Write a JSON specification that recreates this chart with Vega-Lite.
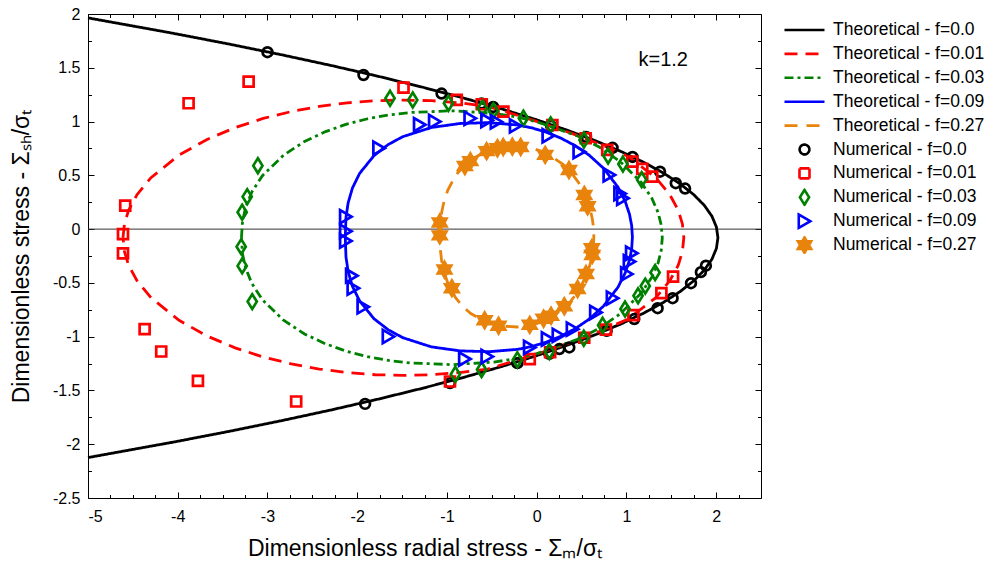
{
  "$schema": "https://vega.github.io/schema/vega-lite/v6.json",
  "width": 673,
  "height": 484,
  "autosize": {"type": "none"},
  "padding": {"left": 88, "top": 14, "right": 226, "bottom": 74},
  "background": "white",
  "config": {
    "view": {"stroke": "#000", "strokeWidth": 1},
    "font": "Liberation Sans",
    "axis": {"grid": false, "domain": false, "tickColor": "#000", "tickWidth": 1, "labelColor": "#000", "titleColor": "#000", "labelFont": "Liberation Sans", "titleFont": "Liberation Sans", "labelFontSize": 16, "titleFontSize": 23, "titleFontWeight": "normal"}
  },
  "datasets": {
    "black": [
      {"s":"Theoretical - f=0.0","x":-5,"y":1.964},{"s":"Theoretical - f=0.0","x":-4.047,"y":1.82},{"s":"Theoretical - f=0.0","x":-3.425,"y":1.72},{"s":"Theoretical - f=0.0","x":-2.837,"y":1.62},{"s":"Theoretical - f=0.0","x":-2.283,"y":1.52},{"s":"Theoretical - f=0.0","x":-1.762,"y":1.42},{"s":"Theoretical - f=0.0","x":-1.274,"y":1.32},{"s":"Theoretical - f=0.0","x":-0.82,"y":1.22},{"s":"Theoretical - f=0.0","x":-0.4,"y":1.12},{"s":"Theoretical - f=0.0","x":-0.014,"y":1.02},{"s":"Theoretical - f=0.0","x":0.339,"y":0.92},{"s":"Theoretical - f=0.0","x":0.659,"y":0.82},{"s":"Theoretical - f=0.0","x":0.944,"y":0.72},{"s":"Theoretical - f=0.0","x":1.196,"y":0.62},{"s":"Theoretical - f=0.0","x":1.415,"y":0.52},{"s":"Theoretical - f=0.0","x":1.6,"y":0.42},{"s":"Theoretical - f=0.0","x":1.751,"y":0.32},{"s":"Theoretical - f=0.0","x":1.869,"y":0.22},{"s":"Theoretical - f=0.0","x":1.953,"y":0.12},{"s":"Theoretical - f=0.0","x":2.003,"y":0.02},{"s":"Theoretical - f=0.0","x":2.02,"y":-0.08},{"s":"Theoretical - f=0.0","x":2.003,"y":-0.18},{"s":"Theoretical - f=0.0","x":1.953,"y":-0.28},{"s":"Theoretical - f=0.0","x":1.869,"y":-0.38},{"s":"Theoretical - f=0.0","x":1.751,"y":-0.48},{"s":"Theoretical - f=0.0","x":1.6,"y":-0.58},{"s":"Theoretical - f=0.0","x":1.415,"y":-0.68},{"s":"Theoretical - f=0.0","x":1.196,"y":-0.78},{"s":"Theoretical - f=0.0","x":0.944,"y":-0.88},{"s":"Theoretical - f=0.0","x":0.659,"y":-0.98},{"s":"Theoretical - f=0.0","x":0.339,"y":-1.08},{"s":"Theoretical - f=0.0","x":-0.014,"y":-1.18},{"s":"Theoretical - f=0.0","x":-0.4,"y":-1.28},{"s":"Theoretical - f=0.0","x":-0.82,"y":-1.38},{"s":"Theoretical - f=0.0","x":-1.274,"y":-1.48},{"s":"Theoretical - f=0.0","x":-1.762,"y":-1.58},{"s":"Theoretical - f=0.0","x":-2.283,"y":-1.68},{"s":"Theoretical - f=0.0","x":-2.837,"y":-1.78},{"s":"Theoretical - f=0.0","x":-3.425,"y":-1.88},{"s":"Theoretical - f=0.0","x":-4.047,"y":-1.98},{"s":"Theoretical - f=0.0","x":-5,"y":-2.124}
    ],
    "loops": [
      {"s":"Theoretical - f=0.01","x":-4.61,"y":-0.08},{"s":"Theoretical - f=0.01","x":-4.594,"y":0.048},{"s":"Theoretical - f=0.01","x":-4.548,"y":0.175},{"s":"Theoretical - f=0.01","x":-4.454,"y":0.32},{"s":"Theoretical - f=0.01","x":-4.298,"y":0.478},{"s":"Theoretical - f=0.01","x":-3.985,"y":0.688},{"s":"Theoretical - f=0.01","x":-3.673,"y":0.834},{"s":"Theoretical - f=0.01","x":-3.36,"y":0.944},{"s":"Theoretical - f=0.01","x":-3.048,"y":1.029},{"s":"Theoretical - f=0.01","x":-2.735,"y":1.093},{"s":"Theoretical - f=0.01","x":-2.423,"y":1.141},{"s":"Theoretical - f=0.01","x":-2.11,"y":1.174},{"s":"Theoretical - f=0.01","x":-1.798,"y":1.194},{"s":"Theoretical - f=0.01","x":-1.485,"y":1.2},{"s":"Theoretical - f=0.01","x":-1.173,"y":1.194},{"s":"Theoretical - f=0.01","x":-0.86,"y":1.174},{"s":"Theoretical - f=0.01","x":-0.548,"y":1.141},{"s":"Theoretical - f=0.01","x":-0.235,"y":1.063},{"s":"Theoretical - f=0.01","x":0.078,"y":0.98},{"s":"Theoretical - f=0.01","x":0.39,"y":0.89},{"s":"Theoretical - f=0.01","x":0.703,"y":0.79},{"s":"Theoretical - f=0.01","x":1.015,"y":0.678},{"s":"Theoretical - f=0.01","x":1.328,"y":0.478},{"s":"Theoretical - f=0.01","x":1.484,"y":0.32},{"s":"Theoretical - f=0.01","x":1.578,"y":0.175},{"s":"Theoretical - f=0.01","x":1.624,"y":0.048},{"s":"Theoretical - f=0.01","x":1.64,"y":-0.08},{"s":"Theoretical - f=0.01","x":1.624,"y":-0.208},{"s":"Theoretical - f=0.01","x":1.578,"y":-0.335},{"s":"Theoretical - f=0.01","x":1.484,"y":-0.48},{"s":"Theoretical - f=0.01","x":1.328,"y":-0.638},{"s":"Theoretical - f=0.01","x":1.015,"y":-0.838},{"s":"Theoretical - f=0.01","x":0.703,"y":-0.95},{"s":"Theoretical - f=0.01","x":0.39,"y":-1.05},{"s":"Theoretical - f=0.01","x":0.078,"y":-1.14},{"s":"Theoretical - f=0.01","x":-0.235,"y":-1.223},{"s":"Theoretical - f=0.01","x":-0.548,"y":-1.301},{"s":"Theoretical - f=0.01","x":-0.86,"y":-1.334},{"s":"Theoretical - f=0.01","x":-1.173,"y":-1.354},{"s":"Theoretical - f=0.01","x":-1.485,"y":-1.36},{"s":"Theoretical - f=0.01","x":-1.798,"y":-1.354},{"s":"Theoretical - f=0.01","x":-2.11,"y":-1.334},{"s":"Theoretical - f=0.01","x":-2.423,"y":-1.301},{"s":"Theoretical - f=0.01","x":-2.735,"y":-1.253},{"s":"Theoretical - f=0.01","x":-3.048,"y":-1.189},{"s":"Theoretical - f=0.01","x":-3.36,"y":-1.104},{"s":"Theoretical - f=0.01","x":-3.673,"y":-0.994},{"s":"Theoretical - f=0.01","x":-3.985,"y":-0.848},{"s":"Theoretical - f=0.01","x":-4.298,"y":-0.638},{"s":"Theoretical - f=0.01","x":-4.454,"y":-0.48},{"s":"Theoretical - f=0.01","x":-4.548,"y":-0.335},{"s":"Theoretical - f=0.01","x":-4.594,"y":-0.208},{"s":"Theoretical - f=0.01","x":-4.61,"y":-0.08},
      {"s":"Theoretical - f=0.03","x":-3.29,"y":-0.08},{"s":"Theoretical - f=0.03","x":-3.278,"y":0.072},{"s":"Theoretical - f=0.03","x":-3.243,"y":0.204},{"s":"Theoretical - f=0.03","x":-3.173,"y":0.347},{"s":"Theoretical - f=0.03","x":-3.056,"y":0.497},{"s":"Theoretical - f=0.03","x":-2.821,"y":0.687},{"s":"Theoretical - f=0.03","x":-2.587,"y":0.815},{"s":"Theoretical - f=0.03","x":-2.352,"y":0.907},{"s":"Theoretical - f=0.03","x":-2.118,"y":0.976},{"s":"Theoretical - f=0.03","x":-1.883,"y":1.026},{"s":"Theoretical - f=0.03","x":-1.649,"y":1.061},{"s":"Theoretical - f=0.03","x":-1.414,"y":1.084},{"s":"Theoretical - f=0.03","x":-0.945,"y":1.1},{"s":"Theoretical - f=0.03","x":-0.476,"y":1.076},{"s":"Theoretical - f=0.03","x":-0.242,"y":1.046},{"s":"Theoretical - f=0.03","x":-0.007,"y":1.0},{"s":"Theoretical - f=0.03","x":0.228,"y":0.933},{"s":"Theoretical - f=0.03","x":0.462,"y":0.863},{"s":"Theoretical - f=0.03","x":0.697,"y":0.763},{"s":"Theoretical - f=0.03","x":0.931,"y":0.628},{"s":"Theoretical - f=0.03","x":1.166,"y":0.434},{"s":"Theoretical - f=0.03","x":1.283,"y":0.288},{"s":"Theoretical - f=0.03","x":1.353,"y":0.155},{"s":"Theoretical - f=0.03","x":1.388,"y":0.038},{"s":"Theoretical - f=0.03","x":1.4,"y":-0.08},{"s":"Theoretical - f=0.03","x":1.388,"y":-0.198},{"s":"Theoretical - f=0.03","x":1.353,"y":-0.315},{"s":"Theoretical - f=0.03","x":1.283,"y":-0.448},{"s":"Theoretical - f=0.03","x":1.166,"y":-0.594},{"s":"Theoretical - f=0.03","x":0.931,"y":-0.788},{"s":"Theoretical - f=0.03","x":0.697,"y":-0.923},{"s":"Theoretical - f=0.03","x":0.462,"y":-1.023},{"s":"Theoretical - f=0.03","x":0.228,"y":-1.093},{"s":"Theoretical - f=0.03","x":-0.007,"y":-1.16},{"s":"Theoretical - f=0.03","x":-0.242,"y":-1.206},{"s":"Theoretical - f=0.03","x":-0.476,"y":-1.236},{"s":"Theoretical - f=0.03","x":-0.945,"y":-1.26},{"s":"Theoretical - f=0.03","x":-1.414,"y":-1.244},{"s":"Theoretical - f=0.03","x":-1.649,"y":-1.221},{"s":"Theoretical - f=0.03","x":-1.883,"y":-1.186},{"s":"Theoretical - f=0.03","x":-2.118,"y":-1.136},{"s":"Theoretical - f=0.03","x":-2.352,"y":-1.067},{"s":"Theoretical - f=0.03","x":-2.587,"y":-0.975},{"s":"Theoretical - f=0.03","x":-2.821,"y":-0.847},{"s":"Theoretical - f=0.03","x":-3.056,"y":-0.657},{"s":"Theoretical - f=0.03","x":-3.173,"y":-0.507},{"s":"Theoretical - f=0.03","x":-3.243,"y":-0.364},{"s":"Theoretical - f=0.03","x":-3.278,"y":-0.232},{"s":"Theoretical - f=0.03","x":-3.29,"y":-0.08},
      {"s":"Theoretical - f=0.09","x":-2.133,"y":-0.075},{"s":"Theoretical - f=0.09","x":-2.125,"y":0.109},{"s":"Theoretical - f=0.09","x":-2.101,"y":0.244},{"s":"Theoretical - f=0.09","x":-2.053,"y":0.382},{"s":"Theoretical - f=0.09","x":-1.973,"y":0.518},{"s":"Theoretical - f=0.09","x":-1.813,"y":0.683},{"s":"Theoretical - f=0.09","x":-1.653,"y":0.787},{"s":"Theoretical - f=0.09","x":-1.493,"y":0.859},{"s":"Theoretical - f=0.09","x":-1.173,"y":0.945},{"s":"Theoretical - f=0.09","x":-0.853,"y":0.982},{"s":"Theoretical - f=0.09","x":-0.533,"y":0.99},{"s":"Theoretical - f=0.09","x":-0.213,"y":0.968},{"s":"Theoretical - f=0.09","x":-0.053,"y":0.941},{"s":"Theoretical - f=0.09","x":0.107,"y":0.901},{"s":"Theoretical - f=0.09","x":0.267,"y":0.847},{"s":"Theoretical - f=0.09","x":0.427,"y":0.777},{"s":"Theoretical - f=0.09","x":0.587,"y":0.686},{"s":"Theoretical - f=0.09","x":0.747,"y":0.564},{"s":"Theoretical - f=0.09","x":0.907,"y":0.389},{"s":"Theoretical - f=0.09","x":0.987,"y":0.257},{"s":"Theoretical - f=0.09","x":1.035,"y":0.137},{"s":"Theoretical - f=0.09","x":1.059,"y":0.031},{"s":"Theoretical - f=0.09","x":1.067,"y":-0.075},{"s":"Theoretical - f=0.09","x":1.059,"y":-0.181},{"s":"Theoretical - f=0.09","x":1.035,"y":-0.287},{"s":"Theoretical - f=0.09","x":0.987,"y":-0.407},{"s":"Theoretical - f=0.09","x":0.907,"y":-0.539},{"s":"Theoretical - f=0.09","x":0.747,"y":-0.714},{"s":"Theoretical - f=0.09","x":0.587,"y":-0.836},{"s":"Theoretical - f=0.09","x":0.427,"y":-0.927},{"s":"Theoretical - f=0.09","x":0.267,"y":-0.997},{"s":"Theoretical - f=0.09","x":0.107,"y":-1.051},{"s":"Theoretical - f=0.09","x":-0.053,"y":-1.091},{"s":"Theoretical - f=0.09","x":-0.213,"y":-1.118},{"s":"Theoretical - f=0.09","x":-0.533,"y":-1.14},{"s":"Theoretical - f=0.09","x":-0.853,"y":-1.132},{"s":"Theoretical - f=0.09","x":-1.173,"y":-1.095},{"s":"Theoretical - f=0.09","x":-1.493,"y":-1.009},{"s":"Theoretical - f=0.09","x":-1.653,"y":-0.937},{"s":"Theoretical - f=0.09","x":-1.813,"y":-0.833},{"s":"Theoretical - f=0.09","x":-1.973,"y":-0.668},{"s":"Theoretical - f=0.09","x":-2.053,"y":-0.532},{"s":"Theoretical - f=0.09","x":-2.101,"y":-0.394},{"s":"Theoretical - f=0.09","x":-2.125,"y":-0.259},{"s":"Theoretical - f=0.09","x":-2.133,"y":-0.075},
      {"s":"Theoretical - f=0.27","x":-1.077,"y":-0.07},{"s":"Theoretical - f=0.27","x":-1.073,"y":0.05},{"s":"Theoretical - f=0.27","x":-1.06,"y":0.149},{"s":"Theoretical - f=0.27","x":-1.034,"y":0.253},{"s":"Theoretical - f=0.27","x":-0.991,"y":0.361},{"s":"Theoretical - f=0.27","x":-0.906,"y":0.495},{"s":"Theoretical - f=0.27","x":-0.82,"y":0.583},{"s":"Theoretical - f=0.27","x":-0.734,"y":0.645},{"s":"Theoretical - f=0.27","x":-0.563,"y":0.724},{"s":"Theoretical - f=0.27","x":-0.391,"y":0.761},{"s":"Theoretical - f=0.27","x":-0.22,"y":0.77},{"s":"Theoretical - f=0.27","x":-0.049,"y":0.753},{"s":"Theoretical - f=0.27","x":0.123,"y":0.7},{"s":"Theoretical - f=0.27","x":0.294,"y":0.602},{"s":"Theoretical - f=0.27","x":0.38,"y":0.53},{"s":"Theoretical - f=0.27","x":0.466,"y":0.434},{"s":"Theoretical - f=0.27","x":0.551,"y":0.296},{"s":"Theoretical - f=0.27","x":0.594,"y":0.192},{"s":"Theoretical - f=0.27","x":0.62,"y":0.097},{"s":"Theoretical - f=0.27","x":0.633,"y":0.014},{"s":"Theoretical - f=0.27","x":0.637,"y":-0.07},{"s":"Theoretical - f=0.27","x":0.633,"y":-0.154},{"s":"Theoretical - f=0.27","x":0.62,"y":-0.237},{"s":"Theoretical - f=0.27","x":0.594,"y":-0.332},{"s":"Theoretical - f=0.27","x":0.551,"y":-0.436},{"s":"Theoretical - f=0.27","x":0.466,"y":-0.574},{"s":"Theoretical - f=0.27","x":0.38,"y":-0.67},{"s":"Theoretical - f=0.27","x":0.294,"y":-0.742},{"s":"Theoretical - f=0.27","x":0.123,"y":-0.84},{"s":"Theoretical - f=0.27","x":-0.049,"y":-0.893},{"s":"Theoretical - f=0.27","x":-0.22,"y":-0.91},{"s":"Theoretical - f=0.27","x":-0.391,"y":-0.901},{"s":"Theoretical - f=0.27","x":-0.563,"y":-0.864},{"s":"Theoretical - f=0.27","x":-0.734,"y":-0.785},{"s":"Theoretical - f=0.27","x":-0.82,"y":-0.723},{"s":"Theoretical - f=0.27","x":-0.906,"y":-0.635},{"s":"Theoretical - f=0.27","x":-0.991,"y":-0.501},{"s":"Theoretical - f=0.27","x":-1.034,"y":-0.393},{"s":"Theoretical - f=0.27","x":-1.06,"y":-0.289},{"s":"Theoretical - f=0.27","x":-1.073,"y":-0.19},{"s":"Theoretical - f=0.27","x":-1.077,"y":-0.07}
    ],
    "num": [
      {"s":"Numerical - f=0.0","x":-3.0,"y":1.645},{"s":"Numerical - f=0.0","x":-1.93,"y":1.433},{"s":"Numerical - f=0.0","x":-1.06,"y":1.26},{"s":"Numerical - f=0.0","x":-0.614,"y":1.167},{"s":"Numerical - f=0.0","x":-0.485,"y":1.136},{"s":"Numerical - f=0.0","x":0.16,"y":0.96},{"s":"Numerical - f=0.0","x":0.55,"y":0.857},{"s":"Numerical - f=0.0","x":0.846,"y":0.756},{"s":"Numerical - f=0.0","x":1.068,"y":0.671},{"s":"Numerical - f=0.0","x":1.375,"y":0.534},{"s":"Numerical - f=0.0","x":1.55,"y":0.427},{"s":"Numerical - f=0.0","x":1.654,"y":0.377},{"s":"Numerical - f=0.0","x":1.886,"y":-0.34},{"s":"Numerical - f=0.0","x":1.83,"y":-0.4},{"s":"Numerical - f=0.0","x":1.72,"y":-0.503},{"s":"Numerical - f=0.0","x":1.515,"y":-0.642},{"s":"Numerical - f=0.0","x":1.348,"y":-0.735},{"s":"Numerical - f=0.0","x":1.088,"y":-0.836},{"s":"Numerical - f=0.0","x":0.78,"y":-0.945},{"s":"Numerical - f=0.0","x":0.364,"y":-1.1},{"s":"Numerical - f=0.0","x":0.253,"y":-1.115},{"s":"Numerical - f=0.0","x":0.141,"y":-1.16},{"s":"Numerical - f=0.0","x":-0.215,"y":-1.246},{"s":"Numerical - f=0.0","x":-0.966,"y":-1.432},{"s":"Numerical - f=0.0","x":-1.912,"y":-1.625},
      {"s":"Numerical - f=0.01","x":-3.879,"y":1.17},{"s":"Numerical - f=0.01","x":-3.21,"y":1.371},{"s":"Numerical - f=0.01","x":-1.484,"y":1.315},{"s":"Numerical - f=0.01","x":-0.891,"y":1.201},{"s":"Numerical - f=0.01","x":-0.612,"y":1.161},{"s":"Numerical - f=0.01","x":-0.371,"y":1.092},{"s":"Numerical - f=0.01","x":0.175,"y":0.968},{"s":"Numerical - f=0.01","x":0.546,"y":0.845},{"s":"Numerical - f=0.01","x":0.787,"y":0.736},{"s":"Numerical - f=0.01","x":1.066,"y":0.627},{"s":"Numerical - f=0.01","x":1.177,"y":0.56},{"s":"Numerical - f=0.01","x":1.288,"y":0.488},{"s":"Numerical - f=0.01","x":1.52,"y":-0.441},{"s":"Numerical - f=0.01","x":1.39,"y":-0.596},{"s":"Numerical - f=0.01","x":1.078,"y":-0.8},{"s":"Numerical - f=0.01","x":0.772,"y":-0.934},{"s":"Numerical - f=0.01","x":0.53,"y":-1.01},{"s":"Numerical - f=0.01","x":0.15,"y":-1.145},{"s":"Numerical - f=0.01","x":-0.077,"y":-1.208},{"s":"Numerical - f=0.01","x":-0.966,"y":-1.417},{"s":"Numerical - f=0.01","x":-2.68,"y":-1.603},{"s":"Numerical - f=0.01","x":-3.775,"y":-1.411},{"s":"Numerical - f=0.01","x":-4.184,"y":-1.138},{"s":"Numerical - f=0.01","x":-4.369,"y":-0.93},{"s":"Numerical - f=0.01","x":-4.61,"y":-0.225},{"s":"Numerical - f=0.01","x":-4.61,"y":-0.047},{"s":"Numerical - f=0.01","x":-4.585,"y":0.218},
      {"s":"Numerical - f=0.03","x":-3.107,"y":0.59},{"s":"Numerical - f=0.03","x":-3.226,"y":0.302},{"s":"Numerical - f=0.03","x":-3.282,"y":0.157},{"s":"Numerical - f=0.03","x":-3.293,"y":-0.163},{"s":"Numerical - f=0.03","x":-3.282,"y":-0.342},{"s":"Numerical - f=0.03","x":-3.17,"y":-0.674},{"s":"Numerical - f=0.03","x":-1.634,"y":1.216},{"s":"Numerical - f=0.03","x":-1.381,"y":1.201},{"s":"Numerical - f=0.03","x":-0.983,"y":1.17},{"s":"Numerical - f=0.03","x":-0.605,"y":1.124},{"s":"Numerical - f=0.03","x":-0.482,"y":1.099},{"s":"Numerical - f=0.03","x":-0.148,"y":1.031},{"s":"Numerical - f=0.03","x":0.156,"y":0.968},{"s":"Numerical - f=0.03","x":0.527,"y":0.829},{"s":"Numerical - f=0.03","x":0.796,"y":0.68},{"s":"Numerical - f=0.03","x":0.961,"y":0.605},{"s":"Numerical - f=0.03","x":1.17,"y":0.46},{"s":"Numerical - f=0.03","x":1.32,"y":-0.404},{"s":"Numerical - f=0.03","x":1.21,"y":-0.53},{"s":"Numerical - f=0.03","x":1.13,"y":-0.62},{"s":"Numerical - f=0.03","x":0.985,"y":-0.743},{"s":"Numerical - f=0.03","x":0.735,"y":-0.894},{"s":"Numerical - f=0.03","x":0.525,"y":-1.014},{"s":"Numerical - f=0.03","x":0.141,"y":-1.138},{"s":"Numerical - f=0.03","x":-0.215,"y":-1.215},{"s":"Numerical - f=0.03","x":-0.614,"y":-1.305},{"s":"Numerical - f=0.03","x":-0.906,"y":-1.35},
      {"s":"Numerical - f=0.09","x":-1.756,"y":0.752},{"s":"Numerical - f=0.09","x":-1.303,"y":0.97},{"s":"Numerical - f=0.09","x":-1.135,"y":1.0},{"s":"Numerical - f=0.09","x":-0.74,"y":1.03},{"s":"Numerical - f=0.09","x":-0.553,"y":1.01},{"s":"Numerical - f=0.09","x":-0.447,"y":0.997},{"s":"Numerical - f=0.09","x":-0.234,"y":0.96},{"s":"Numerical - f=0.09","x":0.13,"y":0.868},{"s":"Numerical - f=0.09","x":0.475,"y":0.72},{"s":"Numerical - f=0.09","x":0.81,"y":0.504},{"s":"Numerical - f=0.09","x":0.93,"y":0.33},{"s":"Numerical - f=0.09","x":0.961,"y":0.287},{"s":"Numerical - f=0.09","x":-2.127,"y":0.115},{"s":"Numerical - f=0.09","x":-2.127,"y":-0.02},{"s":"Numerical - f=0.09","x":-2.127,"y":-0.11},{"s":"Numerical - f=0.09","x":-2.06,"y":-0.434},{"s":"Numerical - f=0.09","x":-2.043,"y":-0.549},{"s":"Numerical - f=0.09","x":-1.932,"y":-0.723},{"s":"Numerical - f=0.09","x":-1.651,"y":-0.999},{"s":"Numerical - f=0.09","x":-0.8,"y":-1.208},{"s":"Numerical - f=0.09","x":-0.55,"y":-1.185},{"s":"Numerical - f=0.09","x":-0.077,"y":-1.1},{"s":"Numerical - f=0.09","x":0.122,"y":-1.022},{"s":"Numerical - f=0.09","x":0.243,"y":-0.988},{"s":"Numerical - f=0.09","x":0.4,"y":-0.93},{"s":"Numerical - f=0.09","x":0.66,"y":-0.775},{"s":"Numerical - f=0.09","x":0.846,"y":-0.642},{"s":"Numerical - f=0.09","x":1.005,"y":-0.418},{"s":"Numerical - f=0.09","x":1.035,"y":-0.302},{"s":"Numerical - f=0.09","x":1.06,"y":-0.224},
      {"s":"Numerical - f=0.27","x":-1.08,"y":0.062},{"s":"Numerical - f=0.27","x":-1.08,"y":-0.058},{"s":"Numerical - f=0.27","x":-1.027,"y":-0.376},{"s":"Numerical - f=0.27","x":-0.945,"y":-0.549},{"s":"Numerical - f=0.27","x":-0.58,"y":-0.847},{"s":"Numerical - f=0.27","x":-0.425,"y":-0.898},{"s":"Numerical - f=0.27","x":-0.077,"y":-0.89},{"s":"Numerical - f=0.27","x":0.077,"y":-0.833},{"s":"Numerical - f=0.27","x":0.16,"y":-0.805},{"s":"Numerical - f=0.27","x":0.308,"y":-0.717},{"s":"Numerical - f=0.27","x":0.456,"y":-0.557},{"s":"Numerical - f=0.27","x":0.55,"y":-0.418},{"s":"Numerical - f=0.27","x":0.62,"y":-0.24},{"s":"Numerical - f=0.27","x":0.615,"y":-0.177},{"s":"Numerical - f=0.27","x":0.568,"y":0.212},{"s":"Numerical - f=0.27","x":0.531,"y":0.318},{"s":"Numerical - f=0.27","x":0.36,"y":0.55},{"s":"Numerical - f=0.27","x":0.095,"y":0.69},{"s":"Numerical - f=0.27","x":-0.178,"y":0.764},{"s":"Numerical - f=0.27","x":-0.271,"y":0.767},{"s":"Numerical - f=0.27","x":-0.373,"y":0.764},{"s":"Numerical - f=0.27","x":-0.437,"y":0.752},{"s":"Numerical - f=0.27","x":-0.558,"y":0.725},{"s":"Numerical - f=0.27","x":-0.739,"y":0.632},{"s":"Numerical - f=0.27","x":-0.8,"y":0.586}
    ]
  },
  "layer": [
    {
      "data": {"values": [{"y": 0}]},
      "mark": {"type": "rule", "color": "#333", "strokeWidth": 1},
      "encoding": {"y": {"field": "y", "type": "quantitative", "scale": {"domain": [-2.5, 2], "nice": false, "zero": false}, "axis": null}}
    },
    {
      "data": {"name": "black"},
      "mark": {"type": "line", "strokeWidth": 2.8},
      "encoding": {
        "x": {"field": "x", "type": "quantitative", "scale": {"domain": [-5, 2.5], "nice": false, "zero": false},
              "axis": {"orient": "bottom", "values": [-5, -4, -3, -2, -1, 0, 1, 2], "labelExpr": "toString(datum.value)", "tickSize": -6, "labelPadding": 16, "title": "Dimensionless radial stress -  Σₘ/σₜ", "titlePadding": 13}},
        "y": {"field": "y", "type": "quantitative", "scale": {"domain": [-2.5, 2], "nice": false, "zero": false},
              "axis": {"orient": "left", "values": [-2.5, -2, -1.5, -1, -0.5, 0, 0.5, 1, 1.5, 2], "labelExpr": "toString(datum.value)", "tickSize": -6, "labelPadding": 14, "title": "Dimensionless stress - Σₛₕ/σₜ", "titlePadding": 19}},
        "stroke": {"field": "s", "type": "nominal",
          "scale": {"domain": ["Theoretical - f=0.0","Theoretical - f=0.01","Theoretical - f=0.03","Theoretical - f=0.09","Theoretical - f=0.27","Numerical - f=0.0","Numerical - f=0.01","Numerical - f=0.03","Numerical - f=0.09","Numerical - f=0.27"],
                    "range": ["#000000","#ff0000","#008000","#0000ff","#e8830c","#000000","#ff0000","#008000","#0000ff","#e8830c"]},
          "legend": {"title": null, "orient": "none", "legendX": 695, "legendY": 7, "labelFontSize": 17.5, "labelFont": "Liberation Sans", "labelColor": "#000", "labelLimit": 400, "labelOffset": 7, "symbolStrokeWidth": 2.6, "rowPadding": 5.9, "padding": 0, "clipHeight": 18}},
        "strokeDash": {"field": "s", "type": "nominal",
          "scale": {"domain": ["Theoretical - f=0.0","Theoretical - f=0.01","Theoretical - f=0.03","Theoretical - f=0.09","Theoretical - f=0.27","Numerical - f=0.0","Numerical - f=0.01","Numerical - f=0.03","Numerical - f=0.09","Numerical - f=0.27"],
                    "range": [[1,0],[13,8],[9,4,3,4],[1,0],[13,9],[1,0],[1,0],[1,0],[1,0],[1,0]]},
          "legend": {"title": null, "orient": "none", "legendX": 695, "legendY": 7, "labelFontSize": 17.5, "labelFont": "Liberation Sans", "labelColor": "#000", "labelLimit": 400, "labelOffset": 7, "symbolStrokeWidth": 2.6, "rowPadding": 5.9, "padding": 0, "clipHeight": 18}},
        "order": {"value": null}
      }
    },
    {
      "data": {"name": "loops"},
      "mark": {"type": "line", "strokeWidth": 2.8},
      "encoding": {
        "x": {"field": "x", "type": "quantitative", "scale": {"domain": [-5, 2.5], "nice": false, "zero": false},
              "axis": {"orient": "bottom", "values": [-4.75,-4.5,-4.25,-3.75,-3.5,-3.25,-2.75,-2.5,-2.25,-1.75,-1.5,-1.25,-0.75,-0.5,-0.25,0.25,0.5,0.75,1.25,1.5,1.75,2.25], "labels": false, "tickSize": -3.5, "title": null}},
        "y": {"field": "y", "type": "quantitative", "scale": {"domain": [-2.5, 2], "nice": false, "zero": false},
              "axis": {"orient": "left", "values": [-2.25,-1.75,-1.25,-0.75,-0.25,0.25,0.75,1.25,1.75], "labels": false, "tickSize": -3.5, "title": null}},
        "stroke": {"field": "s", "type": "nominal",
          "scale": {"domain": ["Theoretical - f=0.0","Theoretical - f=0.01","Theoretical - f=0.03","Theoretical - f=0.09","Theoretical - f=0.27","Numerical - f=0.0","Numerical - f=0.01","Numerical - f=0.03","Numerical - f=0.09","Numerical - f=0.27"],
                    "range": ["#000000","#ff0000","#008000","#0000ff","#e8830c","#000000","#ff0000","#008000","#0000ff","#e8830c"]},
          "legend": {"title": null, "orient": "none", "legendX": 695, "legendY": 7, "labelFontSize": 17.5, "labelFont": "Liberation Sans", "labelColor": "#000", "labelLimit": 400, "labelOffset": 7, "symbolStrokeWidth": 2.6, "rowPadding": 5.9, "padding": 0, "clipHeight": 18}},
        "strokeDash": {"field": "s", "type": "nominal",
          "scale": {"domain": ["Theoretical - f=0.0","Theoretical - f=0.01","Theoretical - f=0.03","Theoretical - f=0.09","Theoretical - f=0.27","Numerical - f=0.0","Numerical - f=0.01","Numerical - f=0.03","Numerical - f=0.09","Numerical - f=0.27"],
                    "range": [[1,0],[13,8],[9,4,3,4],[1,0],[13,9],[1,0],[1,0],[1,0],[1,0],[1,0]]},
          "legend": {"title": null, "orient": "none", "legendX": 695, "legendY": 7, "labelFontSize": 17.5, "labelFont": "Liberation Sans", "labelColor": "#000", "labelLimit": 400, "labelOffset": 7, "symbolStrokeWidth": 2.6, "rowPadding": 5.9, "padding": 0, "clipHeight": 18}},
        "order": {"value": null}
      }
    },
    {
      "data": {"name": "num"},
      "mark": {"type": "point", "filled": false, "strokeWidth": 2.7, "opacity": 1},
      "encoding": {
        "x": {"field": "x", "type": "quantitative", "scale": {"domain": [-5, 2.5], "nice": false, "zero": false},
              "axis": {"orient": "top", "values": [-5, -4, -3, -2, -1, 0, 1, 2], "labels": false, "tickSize": -6, "title": null}},
        "y": {"field": "y", "type": "quantitative", "scale": {"domain": [-2.5, 2], "nice": false, "zero": false},
              "axis": {"orient": "right", "values": [-2.5, -2, -1.5, -1, -0.5, 0, 0.5, 1, 1.5, 2], "labels": false, "tickSize": -6, "title": null}},
        "stroke": {"field": "s", "type": "nominal",
          "scale": {"domain": ["Theoretical - f=0.0","Theoretical - f=0.01","Theoretical - f=0.03","Theoretical - f=0.09","Theoretical - f=0.27","Numerical - f=0.0","Numerical - f=0.01","Numerical - f=0.03","Numerical - f=0.09","Numerical - f=0.27"],
                    "range": ["#000000","#ff0000","#008000","#0000ff","#e8830c","#000000","#ff0000","#008000","#0000ff","#e8830c"]},
          "legend": {"title": null, "orient": "none", "legendX": 695, "legendY": 7, "labelFontSize": 17.5, "labelFont": "Liberation Sans", "labelColor": "#000", "labelLimit": 400, "labelOffset": 7, "symbolStrokeWidth": 2.6, "rowPadding": 5.9, "padding": 0, "clipHeight": 18}},
        "fill": {"field": "s", "type": "nominal",
          "scale": {"domain": ["Theoretical - f=0.0","Theoretical - f=0.01","Theoretical - f=0.03","Theoretical - f=0.09","Theoretical - f=0.27","Numerical - f=0.0","Numerical - f=0.01","Numerical - f=0.03","Numerical - f=0.09","Numerical - f=0.27"],
                    "range": ["transparent","transparent","transparent","transparent","transparent","transparent","transparent","transparent","transparent","#e8830c"]},
          "legend": {"title": null, "orient": "none", "legendX": 695, "legendY": 7, "labelFontSize": 17.5, "labelFont": "Liberation Sans", "labelColor": "#000", "labelLimit": 400, "labelOffset": 7, "symbolStrokeWidth": 2.6, "rowPadding": 5.9, "padding": 0, "clipHeight": 18}},
        "shape": {"field": "s", "type": "nominal",
          "scale": {"domain": ["Theoretical - f=0.0","Theoretical - f=0.01","Theoretical - f=0.03","Theoretical - f=0.09","Theoretical - f=0.27","Numerical - f=0.0","Numerical - f=0.01","Numerical - f=0.03","Numerical - f=0.09","Numerical - f=0.27"],
                    "range": ["stroke","stroke","stroke","stroke","stroke","circle","square","M0,-1L0.62,0L0,1L-0.62,0Z","triangle-right","M0,-1L0.866,0.5L-0.866,0.5Z M0,1L-0.866,-0.5L0.866,-0.5Z"]},
          "legend": {"title": null, "orient": "none", "legendX": 695, "legendY": 7, "labelFontSize": 17.5, "labelFont": "Liberation Sans", "labelColor": "#000", "labelLimit": 400, "labelOffset": 7, "symbolStrokeWidth": 2.6, "rowPadding": 5.9, "padding": 0, "clipHeight": 18}},
        "size": {"field": "s", "type": "nominal",
          "scale": {"type": "ordinal", "domain": ["Theoretical - f=0.0","Theoretical - f=0.01","Theoretical - f=0.03","Theoretical - f=0.09","Theoretical - f=0.27","Numerical - f=0.0","Numerical - f=0.01","Numerical - f=0.03","Numerical - f=0.09","Numerical - f=0.27"],
                    "range": [1600,1600,1600,1600,1600,95,100,220,175,240]},
          "legend": {"title": null, "orient": "none", "legendX": 695, "legendY": 7, "labelFontSize": 17.5, "labelFont": "Liberation Sans", "labelColor": "#000", "labelLimit": 400, "labelOffset": 7, "symbolStrokeWidth": 2.6, "rowPadding": 5.9, "padding": 0, "clipHeight": 18}}
      }
    },
    {
      "data": {"values": [{"x": 1.41, "y": 1.573, "t": "k=1.2"}]},
      "mark": {"type": "text", "fontSize": 20, "font": "Liberation Sans", "align": "center", "baseline": "middle", "color": "#000"},
      "encoding": {
        "x": {"field": "x", "type": "quantitative", "scale": {"domain": [-5, 2.5], "nice": false, "zero": false},
              "axis": {"orient": "top", "values": [-4.75,-4.5,-4.25,-3.75,-3.5,-3.25,-2.75,-2.5,-2.25,-1.75,-1.5,-1.25,-0.75,-0.5,-0.25,0.25,0.5,0.75,1.25,1.5,1.75,2.25], "labels": false, "tickSize": -3.5, "title": null}},
        "y": {"field": "y", "type": "quantitative", "scale": {"domain": [-2.5, 2], "nice": false, "zero": false},
              "axis": {"orient": "right", "values": [-2.25,-1.75,-1.25,-0.75,-0.25,0.25,0.75,1.25,1.75], "labels": false, "tickSize": -3.5, "title": null}},
        "text": {"field": "t", "type": "nominal"}
      }
    }
  ],
  "resolve": {"axis": {"x": "independent", "y": "independent"}}
}
